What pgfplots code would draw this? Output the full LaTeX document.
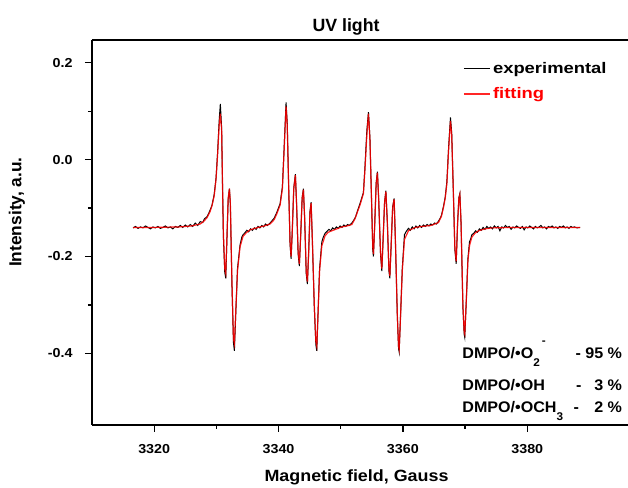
\documentclass[border=0pt]{standalone}
\usepackage{fontspec}
\setmainfont{Liberation Sans}
\newfontfamily\wide[FakeStretch=1.2]{Liberation Sans}
\newfontfamily\wider[FakeStretch=1.1]{Liberation Sans}
\newfontfamily\annfont[FakeStretch=1.05]{Liberation Sans}
\usepackage{pgfplots}
\pgfplotsset{compat=1.18}
\begin{document}
\begin{tikzpicture}
\useasboundingbox (-69pt,-47.25pt) rectangle (402pt,318.75pt);
\begin{axis}[
  scale only axis,
  width=402pt, height=288.75pt,
  xmin=3310, xmax=3396.2,
  ymin=-0.548, ymax=0.247,
  axis x line*=box, axis y line*=left,
  axis line style={line width=1.1pt},
  xtick={3320,3340,3360,3380},
  ytick={-0.4,-0.2,0.0,0.2},
  minor tick num=1,
  xtick pos=left, ytick pos=left,
  tick align=outside,
  major tick length=5.25pt, minor tick length=3pt,
  every tick/.style={line width=1pt, black},
  /pgf/number format/assume math mode=true,
  xticklabel style={/pgf/number format/set thousands separator={}, font=\wider\fontsize{9.75}{11}\selectfont\bfseries, yshift=-6pt},
  yticklabel style={/pgf/number format/.cd, fixed, fixed zerofill, precision=1, /tikz/.cd, font=\wider\fontsize{9.75}{11}\selectfont\bfseries, xshift=-5.75pt},
  title={UV light},
  title style={font=\fontsize{13.3}{15}\selectfont\bfseries, at={(axis description cs:0.474,1)}, anchor=center, yshift=4pt},
  xlabel={Magnetic field, Gauss},
  xlabel style={font=\wider\fontsize{12.2}{14}\selectfont\bfseries, at={(axis description cs:0.4935,0)}, anchor=center, yshift=-39pt},
  ylabel={Intensity, a.u.},
  ylabel style={font=\fontsize{13}{15}\selectfont\bfseries, at={(axis description cs:-0.14,0.553)}, anchor=center},
  legend style={draw=none, fill=none, at={(axis description cs:0.692,0.948)}, anchor=north west, font=\wide\fontsize{11.5}{13}\selectfont\bfseries, row sep=6pt, inner sep=0pt, nodes={inner sep=1.5pt}},
  legend cell align=left,
  legend image code/.code={\draw[#1, line width=0.9pt] (0pt,0pt) -- (20pt,0pt);},
]
\addplot[black, line width=0.75pt] coordinates {
(3316.6,-0.141) (3317.0,-0.138) (3317.4,-0.142) (3317.8,-0.139) (3318.2,-0.141) (3318.6,-0.137) (3319.0,-0.140) (3319.4,-0.143) (3319.8,-0.139) (3320.2,-0.141) (3320.6,-0.138) (3321.0,-0.142) (3321.4,-0.140) (3321.8,-0.137) (3322.2,-0.141) (3322.6,-0.139) (3323.0,-0.143) (3323.4,-0.138) (3323.8,-0.140) (3324.2,-0.136) (3324.6,-0.140) (3325.0,-0.135) (3325.4,-0.139) (3325.8,-0.134) (3326.2,-0.138) (3326.6,-0.131) (3327.0,-0.136) (3327.4,-0.128) (3327.8,-0.130) (3328.1,-0.122) (3328.5,-0.118) (3328.8,-0.110) (3329.1,-0.101) (3329.3,-0.094) (3329.65,-0.072) (3329.95,-0.038) (3330.2,0.015) (3330.45,0.080) (3330.64,0.115) (3330.85,0.065) (3331.0,-0.060) (3331.13,-0.160) (3331.35,-0.232) (3331.51,-0.245) (3331.7,-0.165) (3331.9,-0.082) (3332.10,-0.060) (3332.25,-0.092) (3332.5,-0.255) (3332.75,-0.378) (3332.90,-0.395) (3333.1,-0.325) (3333.4,-0.225) (3333.81,-0.176) (3334.1,-0.160) (3334.3,-0.155) (3334.6,-0.151) (3334.9,-0.146) (3335.2,-0.149) (3335.5,-0.143) (3335.8,-0.146) (3336.1,-0.141) (3336.4,-0.144) (3336.7,-0.138) (3337.0,-0.141) (3337.3,-0.136) (3337.6,-0.139) (3337.9,-0.133) (3338.2,-0.136) (3338.64,-0.131) (3338.9,-0.127) (3339.3,-0.121) (3339.72,-0.109) (3340.25,-0.091) (3340.62,-0.056) (3340.9,0.025) (3341.21,0.118) (3341.4,0.075) (3341.6,-0.040) (3341.85,-0.175) (3342.02,-0.205) (3342.2,-0.150) (3342.45,-0.058) (3342.71,-0.030) (3342.9,-0.092) (3343.15,-0.195) (3343.35,-0.220) (3343.55,-0.160) (3343.8,-0.078) (3344.00,-0.060) (3344.2,-0.122) (3344.45,-0.235) (3344.64,-0.257) (3344.85,-0.190) (3345.05,-0.108) (3345.24,-0.088) (3345.45,-0.172) (3345.75,-0.305) (3346.0,-0.382) (3346.15,-0.395) (3346.35,-0.318) (3346.6,-0.225) (3346.96,-0.170) (3347.2,-0.160) (3347.49,-0.152) (3347.8,-0.148) (3348.1,-0.144) (3348.4,-0.147) (3348.7,-0.141) (3349.0,-0.144) (3349.3,-0.139) (3349.6,-0.142) (3349.9,-0.137) (3350.2,-0.140) (3350.5,-0.135) (3350.8,-0.138) (3351.1,-0.134) (3351.4,-0.136) (3351.79,-0.131) (3352.1,-0.125) (3352.4,-0.118) (3352.69,-0.106) (3353.12,-0.090) (3353.65,-0.068) (3353.9,-0.015) (3354.2,0.060) (3354.46,0.098) (3354.7,0.045) (3354.95,-0.080) (3355.15,-0.185) (3355.26,-0.200) (3355.45,-0.140) (3355.7,-0.048) (3355.90,-0.025) (3356.1,-0.080) (3356.4,-0.195) (3356.61,-0.230) (3356.8,-0.170) (3357.05,-0.088) (3357.26,-0.064) (3357.5,-0.130) (3357.75,-0.230) (3357.90,-0.245) (3358.1,-0.180) (3358.35,-0.098) (3358.59,-0.080) (3358.8,-0.170) (3359.1,-0.322) (3359.30,-0.390) (3359.40,-0.397) (3359.6,-0.330) (3359.9,-0.225) (3360.25,-0.155) (3360.5,-0.149) (3360.89,-0.142) (3361.2,-0.146) (3361.5,-0.139) (3361.8,-0.143) (3362.1,-0.137) (3362.4,-0.141) (3362.7,-0.136) (3363.0,-0.140) (3363.3,-0.135) (3363.6,-0.138) (3363.9,-0.134) (3364.2,-0.137) (3364.5,-0.133) (3364.8,-0.135) (3365.1,-0.131) (3365.4,-0.133) (3365.72,-0.127) (3366.0,-0.121) (3366.2,-0.115) (3366.52,-0.097) (3366.8,-0.078) (3367.07,-0.046) (3367.35,0.025) (3367.65,0.087) (3367.85,0.055) (3368.1,-0.060) (3368.35,-0.185) (3368.57,-0.215) (3368.8,-0.130) (3369.0,-0.079) (3369.16,-0.070) (3369.35,-0.130) (3369.65,-0.305) (3369.85,-0.360) (3369.95,-0.367) (3370.2,-0.290) (3370.45,-0.205) (3370.71,-0.170) (3370.9,-0.164) (3371.09,-0.155) (3371.4,-0.152) (3371.7,-0.147) (3372.0,-0.150) (3372.3,-0.143) (3372.6,-0.146) (3372.9,-0.140) (3373.2,-0.144) (3373.5,-0.138) (3373.8,-0.142) (3374.1,-0.139) (3374.4,-0.143) (3374.7,-0.137) (3375.0,-0.141) (3375.3,-0.138) (3375.6,-0.147) (3375.9,-0.139) (3376.2,-0.141) (3376.5,-0.136) (3376.8,-0.140) (3377.1,-0.138) (3377.4,-0.144) (3377.7,-0.139) (3378.0,-0.141) (3378.3,-0.137) (3378.6,-0.140) (3378.9,-0.142) (3379.2,-0.138) (3379.5,-0.145) (3379.8,-0.139) (3380.1,-0.141) (3380.4,-0.137) (3380.7,-0.140) (3381.0,-0.143) (3381.3,-0.138) (3381.6,-0.141) (3381.9,-0.139) (3382.2,-0.136) (3382.5,-0.141) (3382.8,-0.139) (3383.1,-0.143) (3383.4,-0.138) (3383.7,-0.140) (3384.0,-0.137) (3384.3,-0.141) (3384.6,-0.139) (3384.9,-0.142) (3385.2,-0.138) (3385.5,-0.140) (3385.8,-0.137) (3386.1,-0.141) (3386.4,-0.139) (3386.7,-0.142) (3387.0,-0.138) (3387.3,-0.140) (3387.6,-0.139) (3388.0,-0.141) (3388.5,-0.140)
};
\addlegendentry{experimental}
\addplot[red, line width=0.9pt, opacity=0.85] coordinates {
(3316.6,-0.140) (3320,-0.140) (3324,-0.139) (3326,-0.137) (3327.4,-0.133) (3328.0,-0.127) (3328.5,-0.120) (3329.0,-0.107) (3329.3,-0.095) (3329.65,-0.075) (3329.95,-0.040) (3330.2,0.010) (3330.45,0.070) (3330.64,0.095) (3330.85,0.060) (3331.0,-0.060) (3331.13,-0.150) (3331.35,-0.225) (3331.51,-0.235) (3331.7,-0.160) (3331.9,-0.080) (3332.10,-0.060) (3332.25,-0.090) (3332.5,-0.250) (3332.75,-0.370) (3332.90,-0.380) (3333.1,-0.320) (3333.4,-0.230) (3333.81,-0.180) (3334.3,-0.158) (3334.9,-0.150) (3335.42,-0.145) (3336.7,-0.140) (3337.7,-0.137) (3338.64,-0.133) (3339.3,-0.124) (3339.72,-0.112) (3340.25,-0.094) (3340.62,-0.060) (3340.9,0.020) (3341.21,0.110) (3341.4,0.070) (3341.6,-0.040) (3341.85,-0.170) (3342.02,-0.200) (3342.2,-0.150) (3342.45,-0.060) (3342.71,-0.032) (3342.9,-0.090) (3343.15,-0.190) (3343.35,-0.215) (3343.55,-0.160) (3343.8,-0.080) (3344.00,-0.062) (3344.2,-0.120) (3344.45,-0.230) (3344.64,-0.252) (3344.85,-0.190) (3345.05,-0.110) (3345.24,-0.090) (3345.45,-0.170) (3345.75,-0.300) (3346.0,-0.375) (3346.15,-0.385) (3346.35,-0.320) (3346.6,-0.230) (3346.96,-0.178) (3347.49,-0.157) (3348.0,-0.150) (3348.57,-0.147) (3350.18,-0.139) (3351.0,-0.137) (3351.79,-0.134) (3352.3,-0.122) (3352.69,-0.108) (3353.12,-0.093) (3353.65,-0.070) (3353.9,-0.020) (3354.2,0.050) (3354.46,0.095) (3354.7,0.040) (3354.95,-0.080) (3355.15,-0.180) (3355.26,-0.195) (3355.45,-0.140) (3355.7,-0.050) (3355.90,-0.027) (3356.1,-0.080) (3356.4,-0.190) (3356.61,-0.225) (3356.8,-0.170) (3357.05,-0.090) (3357.26,-0.066) (3357.5,-0.130) (3357.75,-0.225) (3357.90,-0.240) (3358.1,-0.180) (3358.35,-0.100) (3358.59,-0.082) (3358.8,-0.170) (3359.1,-0.320) (3359.30,-0.385) (3359.40,-0.392) (3359.6,-0.330) (3359.9,-0.230) (3360.25,-0.165) (3360.89,-0.147) (3362.0,-0.140) (3363.05,-0.138) (3364.5,-0.136) (3365.72,-0.130) (3366.2,-0.117) (3366.52,-0.099) (3366.8,-0.080) (3367.07,-0.050) (3367.35,0.020) (3367.65,0.080) (3367.85,0.050) (3368.1,-0.060) (3368.35,-0.180) (3368.57,-0.210) (3368.8,-0.130) (3369.0,-0.080) (3369.16,-0.072) (3369.35,-0.130) (3369.65,-0.300) (3369.85,-0.355) (3369.95,-0.360) (3370.2,-0.290) (3370.45,-0.210) (3370.71,-0.178) (3371.09,-0.160) (3371.6,-0.152) (3372.16,-0.147) (3373.2,-0.143) (3374.31,-0.141) (3378,-0.140) (3382,-0.140) (3388.5,-0.140)
};
\addlegendentry{\textcolor{red}{fitting}}
\begin{scope}[every node/.style={inner sep=0pt, font=\annfont\fontsize{11.5}{13}\selectfont\bfseries}]
\node[anchor=base west] at (axis cs:3369.53,-0.410) {DMPO/•O\rlap{\raisebox{-6pt}{\fontsize{8.4}{9}\selectfont 2}}\hspace{0.55em}\raisebox{10pt}{\fontsize{8.4}{9}\selectfont -}};
\node[anchor=base] at (axis cs:3388.2,-0.410) {-};
\node[anchor=base east] at (axis cs:3395.28,-0.410) {95 \%};
\node[anchor=base west] at (axis cs:3369.53,-0.476) {DMPO/•OH};
\node[anchor=base] at (axis cs:3388.3,-0.476) {-};
\node[anchor=base east] at (axis cs:3395.28,-0.476) {3 \%};
\node[anchor=base west] at (axis cs:3369.53,-0.522) {DMPO/•OCH\raisebox{-6pt}{\fontsize{8.4}{9}\selectfont 3}};
\node[anchor=base] at (axis cs:3387.9,-0.522) {-};
\node[anchor=base east] at (axis cs:3395.28,-0.522) {2 \%};
\end{scope}
\end{axis}
\end{tikzpicture}
\end{document}
